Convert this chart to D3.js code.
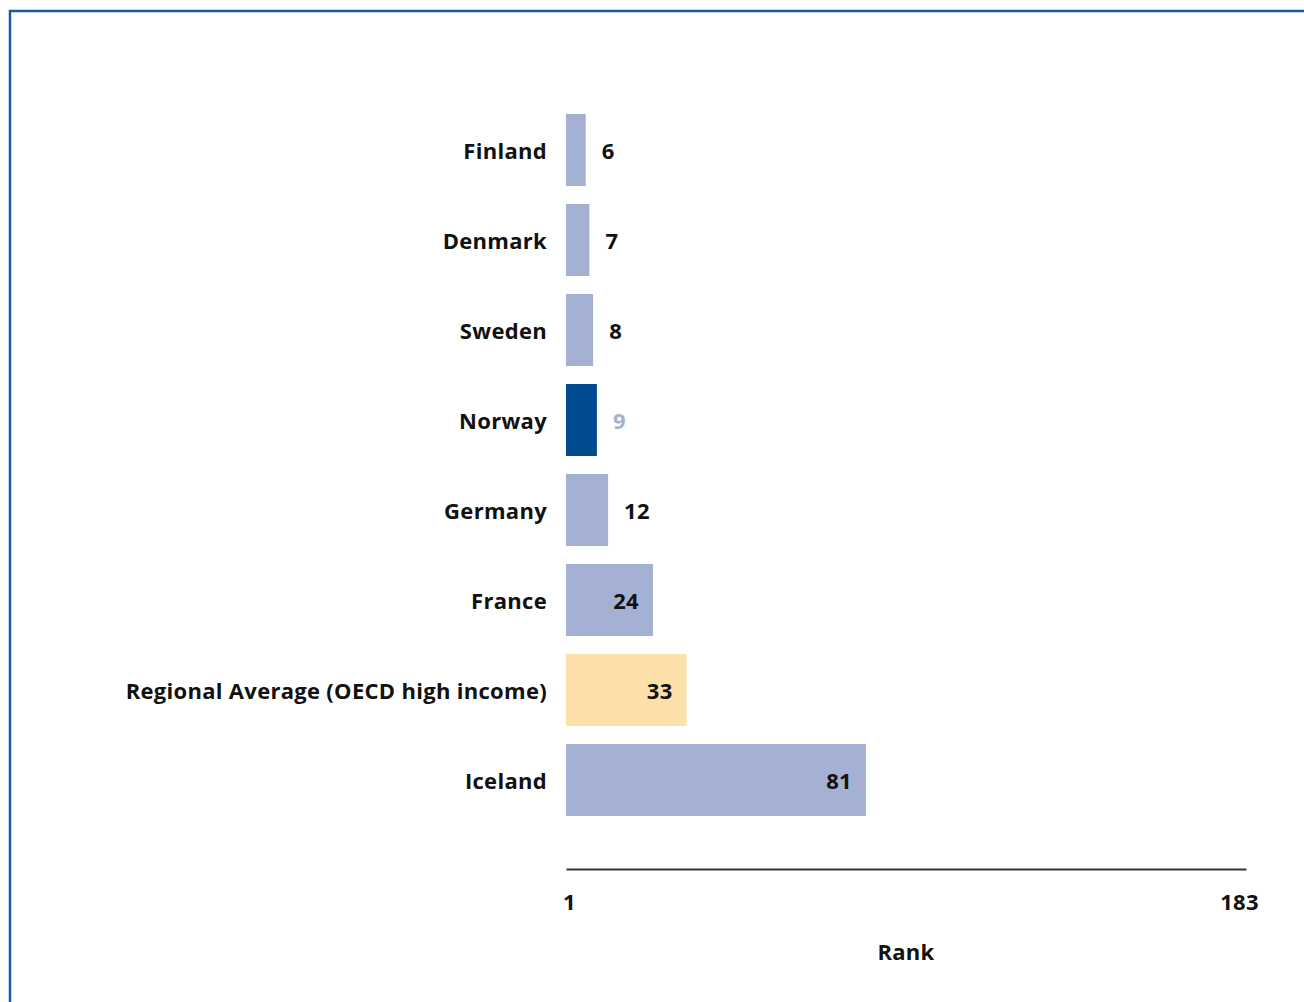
<!DOCTYPE html>
<html>
<head>
<meta charset="utf-8">
<script src="https://cdn.jsdelivr.net/npm/d3@7"></script>
<style>
  html, body { margin: 0; padding: 0; background: #fff; }
  svg { display: block; }
  text { font-family: "Open Sans", "Noto Sans", sans-serif; font-weight: 700; fill: #111; letter-spacing: 0.3px; }
</style>
</head>
<body>
<svg id="chart" width="1304" height="1002"></svg>
<script>
const categories = ["Finland", "Denmark", "Sweden", "Norway", "Germany", "France", "Regional Average (OECD high income)", "Iceland"];
const ranks = [6, 7, 8, 9, 12, 24, 33, 81];
const kinds = ["other", "other", "other", "focus", "other", "other", "region", "other"];
const axisTicks = [1, 183];
const axisTitle = "Rank";

const colors = { other: "#a5b1d3", focus: "#004a8f", region: "#fde0a9" };
const svg = d3.select("#chart");

// frame
svg.append("path")
  .attr("d", "M10,1002 V11 H1304")
  .attr("fill", "none")
  .attr("stroke", "#1b5aa3")
  .attr("stroke-width", 2.5);

const x = d3.scaleLinear().domain([1, 183]).range([566, 1246]);
const y = d3.scaleBand().domain(categories).range([105, 825]).paddingInner(0.2).paddingOuter(0.1);

const data = categories.map((c, i) => ({ c, v: ranks[i], k: kinds[i] }));
const x0 = x(1) - 1;

svg.selectAll("rect.bar").data(data).enter().append("rect")
  .attr("class", "bar")
  .attr("x", 566)
  .attr("y", d => y(d.c))
  .attr("width", d => x(d.v) - x0)
  .attr("height", y.bandwidth())
  .attr("fill", d => colors[d.k]);

// category labels
svg.selectAll("text.cat").data(data).enter().append("text")
  .attr("class", "cat")
  .attr("x", 547)
  .attr("y", d => y(d.c) + y.bandwidth() / 2 + 1)
  .attr("dy", "0.35em")
  .attr("text-anchor", "end")
  .style("font-size", "22px")
  .text(d => d.c);

// value labels
svg.selectAll("text.val").data(data).enter().append("text")
  .attr("class", "val")
  .attr("x", d => {
    const end = 566 + x(d.v) - x0;
    return d.v >= 20 ? end - 14 : end + 16;
  })
  .attr("y", d => y(d.c) + y.bandwidth() / 2 + 1)
  .attr("dy", "0.35em")
  .attr("text-anchor", d => d.v >= 20 ? "end" : "start")
  .style("font-size", "22px")
  .style("fill", d => d.k === "focus" ? "#a5b1d3" : "#111")
  .text(d => d.v);

// axis
const axis = d3.axisBottom(x).tickValues(axisTicks).tickSize(0).tickPadding(25);
const g = svg.append("g").attr("transform", "translate(0,869)").call(axis);
g.select(".domain").attr("stroke", "#333").attr("stroke-width", 2);
g.selectAll(".tick text")
  .style("font-family", "\"Open Sans\", sans-serif")
  .style("font-weight", 700)
  .style("font-size", "22px")
  .style("fill", "#111")
  .attr("dx", (d, i) => i === 0 ? 3 : -7);

svg.append("text")
  .attr("x", (x.range()[0] + x.range()[1]) / 2)
  .attr("y", 960)
  .attr("text-anchor", "middle")
  .style("font-size", "22px")
  .text(axisTitle);
</script>
</body>
</html>
